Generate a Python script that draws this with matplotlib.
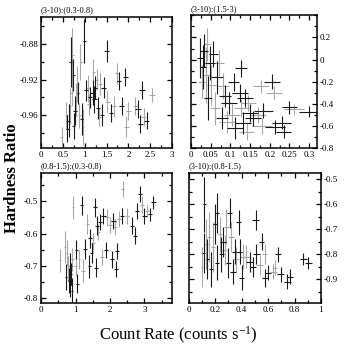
import numpy as np
import matplotlib
matplotlib.use("Agg")
import matplotlib.pyplot as plt
from matplotlib.ticker import MultipleLocator, FormatStrFormatter

plt.rcParams['font.family'] = ['Liberation Serif', 'DejaVu Serif']
plt.rcParams['mathtext.default'] = 'regular'

# panel (3-10):(0.3-0.8)  columns: x, y, xerr, yerr, grey?
tl_x = [0.47, 0.58, 0.63, 0.66, 0.68, 0.70, 0.72, 0.75, 0.78, 0.80, 0.82, 0.85, 0.88, 0.93, 0.96,
        0.99, 1.03, 1.08, 1.12, 1.20, 1.22, 1.24, 1.27, 1.30, 1.33, 1.43, 1.50, 1.52, 1.60, 1.67,
        1.74, 1.78, 1.85, 1.93, 1.95, 2.00, 2.16, 2.22, 2.27, 2.31, 2.35, 2.42, 2.54,
        0.60, 0.74, 0.90, 1.10, 1.18, 1.35, 1.40]
tl_y = [-0.985, -0.960, -0.966, -0.950, -0.900, -0.935, -0.892, -0.972, -0.955, -0.943, -0.925,
        -0.935, -0.960, -0.964, -0.973, -0.877, -0.932, -0.930, -0.940, -0.911, -0.942, -0.929,
        -0.920, -0.952, -0.962, -0.929, -0.888, -0.945, -0.958, -0.950, -0.913, -0.922, -0.950,
        -0.917, -0.973, -0.955, -0.950, -0.953, -0.970, -0.932, -0.962, -0.966, -0.937,
        -0.975, -0.915, -0.900, -0.948, -0.935, -0.925, -0.960]
tl_xe = [0.03, 0.03, 0.04, 0.03, 0.03, 0.04, 0.03, 0.03, 0.04, 0.03, 0.04, 0.03, 0.04, 0.04, 0.03,
         0.04, 0.05, 0.04, 0.04, 0.04, 0.05, 0.05, 0.04, 0.05, 0.05, 0.05, 0.05, 0.05, 0.05, 0.05,
         0.05, 0.05, 0.06, 0.06, 0.06, 0.06, 0.06, 0.06, 0.06, 0.06, 0.06, 0.06, 0.06,
         0.03, 0.03, 0.04, 0.04, 0.05, 0.05, 0.05]
tl_ye = [0.012, 0.015, 0.018, 0.020, 0.028, 0.015, 0.030, 0.015, 0.016, 0.018, 0.020, 0.012,
         0.014, 0.018, 0.020, 0.025, 0.012, 0.015, 0.012, 0.014, 0.015, 0.013, 0.012, 0.012,
         0.010, 0.012, 0.012, 0.012, 0.010, 0.012, 0.012, 0.010, 0.010, 0.010, 0.012, 0.010,
         0.010, 0.010, 0.010, 0.010, 0.010, 0.010, 0.008,
         0.015, 0.018, 0.020, 0.012, 0.014, 0.012, 0.012]
tl_c = [1, 1, 0, 1, 0, 1, 1, 0, 0, 1, 1, 0, 1, 0, 1, 0, 0, 1, 0, 1, 0, 0, 1, 0, 1, 0, 0, 1, 0, 1,
        1, 0, 0, 0, 1, 1, 1, 0, 0, 0, 1, 0, 1, 0, 0, 1, 1, 0, 1, 0]

# panel (3-10):(1.5-3)
tr_x = [0.023, 0.027, 0.031, 0.034, 0.037, 0.040, 0.044, 0.048, 0.052, 0.057, 0.061, 0.065,
        0.070, 0.078, 0.082, 0.087, 0.092, 0.096, 0.104, 0.108, 0.112, 0.124, 0.128, 0.128,
        0.133, 0.141, 0.150, 0.158, 0.170, 0.178, 0.184, 0.180, 0.205, 0.210, 0.214, 0.230,
        0.250, 0.262, 0.300, 0.235, 0.137, 0.146]
tr_y = [0.017, -0.20, -0.07, 0.08, -0.14, 0.14, -0.35, -0.03, -0.23, 0.05, -0.44, -0.16,
        -0.03, -0.53, -0.24, -0.33, -0.56, -0.39, -0.50, -0.20, -0.62, -0.30, -0.08, -0.44,
        -0.57, -0.65, -0.48, -0.53, -0.50, -0.24, -0.46, -0.60, -0.20, -0.30, -0.61, -0.57,
        -0.43, -0.45, -0.47, -0.65, -0.35, -0.39]
tr_xe = [0.008, 0.008, 0.008, 0.010, 0.010, 0.010, 0.010, 0.012, 0.012, 0.012, 0.012, 0.015,
         0.015, 0.015, 0.015, 0.015, 0.020, 0.020, 0.020, 0.015, 0.020, 0.020, 0.015, 0.020,
         0.020, 0.020, 0.020, 0.020, 0.020, 0.020, 0.025, 0.025, 0.020, 0.020, 0.025, 0.025,
         0.020, 0.025, 0.025, 0.020, 0.020, 0.020]
tr_ye = [0.18, 0.15, 0.20, 0.15, 0.25, 0.15, 0.20, 0.15, 0.18, 0.12, 0.15, 0.15,
         0.12, 0.10, 0.12, 0.10, 0.10, 0.10, 0.10, 0.08, 0.10, 0.08, 0.08, 0.08,
         0.10, 0.08, 0.08, 0.07, 0.07, 0.06, 0.07, 0.07, 0.07, 0.06, 0.06, 0.06,
         0.06, 0.05, 0.05, 0.06, 0.08, 0.07]
tr_c = [0, 1, 0, 0, 1, 1, 0, 0, 1, 0, 1, 0, 1, 0, 1, 0, 1, 0, 1, 0, 0, 0, 0, 1,
        0, 1, 0, 0, 1, 1, 0, 1, 0, 1, 0, 0, 0, 1, 0, 0, 0, 1]

# panel (0.8-1.5):(0.3-0.8)
bl_x = [0.55, 0.70, 0.72, 0.75, 0.78, 0.80, 0.85, 0.87, 0.89, 0.91, 0.94, 1.02, 1.05, 1.10,
        1.18, 1.22, 1.27, 1.34, 1.40, 1.42, 1.47, 1.51, 1.57, 1.60, 1.62, 1.66, 1.71, 1.76,
        1.81, 1.91, 1.89, 2.01, 2.05, 2.10, 2.15, 2.18, 2.20, 2.25, 2.35, 2.37, 2.49, 2.63,
        2.73, 2.78, 2.88, 2.93, 3.00, 3.08, 3.16, 3.26, 0.83, 1.00]
bl_y = [-0.683, -0.642, -0.735, -0.660, -0.710, -0.745, -0.700, -0.725, -0.777, -0.680,
        -0.519, -0.650, -0.755, -0.680, -0.513, -0.715, -0.648, -0.570, -0.701, -0.615,
        -0.660, -0.628, -0.519, -0.705, -0.575, -0.595, -0.565, -0.672, -0.545, -0.550,
        -0.650, -0.573, -0.680, -0.560, -0.580, -0.710, -0.653, -0.555, -0.545, -0.462,
        -0.545, -0.575, -0.606, -0.530, -0.477, -0.510, -0.545, -0.530, -0.540, -0.503,
        -0.760, -0.700]
bl_xe = [0.03, 0.03, 0.03, 0.03, 0.03, 0.03, 0.04, 0.04, 0.03, 0.04, 0.03, 0.04, 0.04, 0.04,
         0.04, 0.05, 0.05, 0.05, 0.05, 0.05, 0.05, 0.05, 0.05, 0.05, 0.05, 0.05, 0.05, 0.06,
         0.06, 0.06, 0.06, 0.06, 0.06, 0.06, 0.06, 0.06, 0.06, 0.06, 0.06, 0.05, 0.06, 0.06,
         0.06, 0.06, 0.06, 0.06, 0.06, 0.06, 0.06, 0.06, 0.03, 0.04]
bl_ye = [0.035, 0.050, 0.040, 0.040, 0.040, 0.040, 0.040, 0.035, 0.040, 0.035, 0.035, 0.030,
         0.030, 0.030, 0.030, 0.035, 0.030, 0.030, 0.035, 0.030, 0.030, 0.030, 0.030, 0.030,
         0.030, 0.025, 0.025, 0.025, 0.025, 0.025, 0.025, 0.025, 0.025, 0.025, 0.025, 0.025,
         0.025, 0.025, 0.025, 0.025, 0.025, 0.025, 0.025, 0.025, 0.025, 0.025, 0.025, 0.020,
         0.020, 0.020, 0.035, 0.030]
bl_c = [1, 1, 0, 1, 1, 0, 0, 0, 0, 1, 1, 0, 0, 1, 0, 1, 0, 1, 0, 0, 0, 1, 0, 0, 0, 1, 0, 1,
        0, 1, 0, 1, 0, 0, 1, 0, 0, 1, 0, 1, 1, 0, 0, 0, 0, 1, 0, 1, 0, 0, 0, 1]

# panel (3-10):(0.8-1.5)
br_x = [0.114, 0.130, 0.140, 0.150, 0.170, 0.180, 0.195, 0.210, 0.216, 0.235, 0.245, 0.258,
        0.270, 0.285, 0.300, 0.310, 0.320, 0.335, 0.347, 0.360, 0.377, 0.385, 0.400, 0.410,
        0.435, 0.460, 0.485, 0.506, 0.510, 0.535, 0.550, 0.575, 0.600, 0.640, 0.675, 0.695,
        0.745, 0.765, 0.866, 0.904, 0.575, 0.650, 0.118, 0.100]
br_y = [-0.796, -0.760, -0.820, -0.730, -0.860, -0.770, -0.680, -0.835, -0.636, -0.720,
        -0.800, -0.750, -0.785, -0.690, -0.835, -0.636, -0.730, -0.870, -0.790, -0.820,
        -0.672, -0.790, -0.895, -0.810, -0.810, -0.830, -0.850, -0.663, -0.800, -0.845,
        -0.750, -0.895, -0.875, -0.870, -0.800, -0.880, -0.910, -0.890, -0.820, -0.835,
        -0.800, -0.855, -0.600, -0.850]
br_xe = [0.012, 0.012, 0.012, 0.015, 0.015, 0.015, 0.015, 0.015, 0.015, 0.015, 0.020, 0.020,
         0.020, 0.020, 0.020, 0.020, 0.020, 0.020, 0.020, 0.020, 0.020, 0.020, 0.020, 0.025,
         0.025, 0.025, 0.025, 0.025, 0.025, 0.025, 0.020, 0.025, 0.025, 0.025, 0.020, 0.025,
         0.025, 0.025, 0.025, 0.025, 0.020, 0.020, 0.010, 0.010]
br_ye = [0.08, 0.10, 0.08, 0.10, 0.07, 0.10, 0.08, 0.07, 0.08, 0.07, 0.07, 0.06,
         0.06, 0.07, 0.06, 0.06, 0.06, 0.05, 0.05, 0.05, 0.05, 0.05, 0.05, 0.05,
         0.045, 0.04, 0.04, 0.04, 0.04, 0.04, 0.035, 0.035, 0.03, 0.03, 0.03, 0.03,
         0.03, 0.03, 0.025, 0.025, 0.04, 0.03, 0.11, 0.08]
br_c = [0, 1, 0, 1, 0, 1, 0, 0, 0, 1, 0, 0, 1, 1, 0, 0, 1, 0, 0, 1, 0, 0, 0, 1,
        1, 0, 0, 0, 0, 1, 0, 0, 0, 1, 0, 0, 0, 0, 0, 0, 1, 1, 0, 1]


def draw(ax, x, y, xe, ye, c):
    x, y, xe, ye, c = map(np.asarray, (x, y, xe, ye, c))
    for flag, col in ((1, '#a8a8a8'), (0, '#1a1a1a')):
        m = c == flag
        ax.errorbar(x[m], y[m], xerr=xe[m], yerr=ye[m], fmt='none',
                    ecolor=col, elinewidth=0.8, capsize=0)


def style(ax, title, xlim, ylim, xmaj, xmin, ymaj, ymin, right=False):
    ax.set_xlim(*xlim)
    ax.set_ylim(*ylim)
    ax.xaxis.set_major_locator(MultipleLocator(xmaj))
    ax.xaxis.set_minor_locator(MultipleLocator(xmin))
    ax.yaxis.set_major_locator(MultipleLocator(ymaj))
    ax.yaxis.set_minor_locator(MultipleLocator(ymin))
    ax.xaxis.set_major_formatter(FormatStrFormatter('%g'))
    ax.yaxis.set_major_formatter(FormatStrFormatter('%g'))
    ax.tick_params(which='both', direction='in', top=True, right=True, labelsize=6.5,
                   width=0.9, pad=2)
    ax.tick_params(which='major', length=3.5)
    ax.tick_params(which='minor', length=2.5)
    if right:
        ax.tick_params(labelleft=False, labelright=True)
    for s in ax.spines.values():
        s.set_linewidth(1.1)
    ax.text(0.0, 1.02, title, transform=ax.transAxes, fontsize=6, ha='left', va='bottom')


fig = plt.figure(figsize=(3.57, 3.57), dpi=100, facecolor='white')
ax1 = fig.add_axes([0.115, 0.585, 0.367, 0.367])
ax2 = fig.add_axes([0.535, 0.585, 0.353, 0.372])
ax3 = fig.add_axes([0.115, 0.151, 0.367, 0.364])
ax4 = fig.add_axes([0.529, 0.151, 0.370, 0.364])

draw(ax1, tl_x, tl_y, tl_xe, tl_ye, tl_c)
draw(ax2, tr_x, tr_y, tr_xe, tr_ye, tr_c)
draw(ax3, bl_x, bl_y, bl_xe, bl_ye, bl_c)
draw(ax4, br_x, br_y, br_xe, br_ye, br_c)

style(ax1, '(3-10):(0.3-0.8)', (0, 3), (-0.997, -0.85), 0.5, 0.25, 0.04, 0.02)
style(ax2, '(3-10):(1.5-3)', (0, 0.32), (-0.8, 0.4), 0.05, 0.025, 0.2, 0.1, right=True)
style(ax3, '(0.8-1.5):(0.3-0.8)', (0, 3.8), (-0.815, -0.413), 1, 0.5, 0.1, 0.05)
style(ax4, '(3-10):(0.8-1.5)', (0, 1), (-0.996, -0.476), 0.2, 0.1, 0.1, 0.05, right=True)
ax2.set_yticks([-0.8, -0.6, -0.4, -0.2, 0, 0.2])

fig.text(0.035, 0.5, 'Hardness Ratio', rotation=90, fontsize=12, fontweight='bold',
         ha='center', va='center')
fig.text(0.5, 0.06, 'Count Rate (counts s$^{-1}$)', fontsize=12, ha='center', va='center')

fig.savefig('out.png', dpi=100, facecolor='white')
